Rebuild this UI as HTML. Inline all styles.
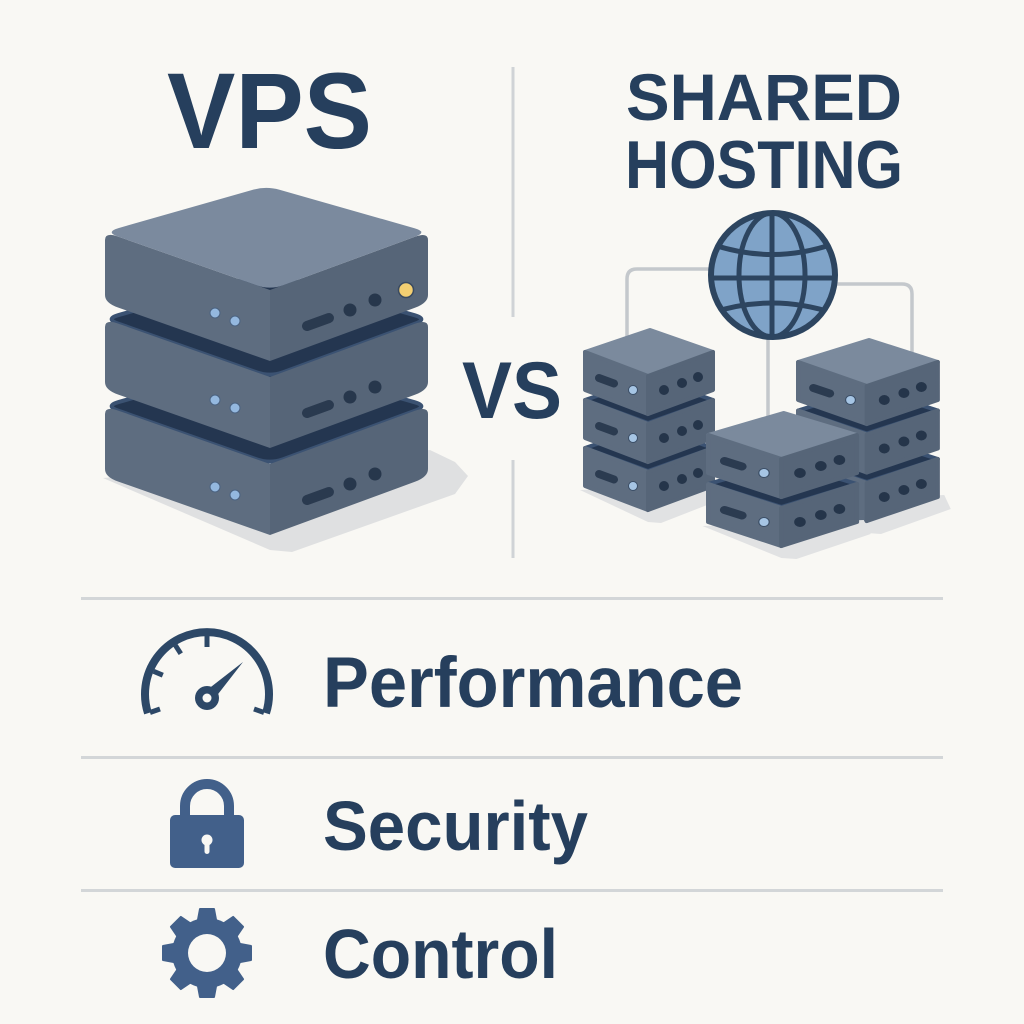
<!DOCTYPE html>
<html>
<head>
<meta charset="utf-8">
<style>
  html, body { margin:0; padding:0; background:#f9f8f4; }
  svg { display:block; }
  text { font-family: "Liberation Sans", "DejaVu Sans", sans-serif; font-weight:bold; fill:#263f5d; }
</style>
</head>
<body>
<svg width="1024" height="1024" viewBox="0 0 1024 1024" xmlns="http://www.w3.org/2000/svg">
  <defs>
    <!-- small server, top tier (light top) -->
    <g id="sTop">
      <path d="M2,0 L67,-22 L130,0 L65,23 Z" fill="#7b8a9d" stroke="#7b8a9d" stroke-width="4" stroke-linejoin="round"/>
      <path d="M2,0 L65,24 L65,62 L2,38 Z" fill="#5e6d80" stroke="#5e6d80" stroke-width="4" stroke-linejoin="round"/>
      <path d="M65,24 L130,0 L130,38 L65,62 Z" fill="#566578" stroke="#566578" stroke-width="4" stroke-linejoin="round"/>
      <line x1="16" y1="26" x2="31" y2="31.5" stroke="#2b3b50" stroke-width="8" stroke-linecap="round"/>
      <circle cx="50" cy="38" r="4.5" fill="#a6c5e4" stroke="#3b4e66" stroke-width="1"/>
      <circle cx="81" cy="38" r="5" fill="#25354a"/>
      <circle cx="99" cy="31" r="5" fill="#25354a"/>
      <circle cx="115" cy="25" r="5" fill="#25354a"/>
    </g>
    <!-- small server, lower tier (dark top rim) -->
    <g id="sLow">
      <path d="M2,0 L67,-22 L130,0 L65,23 Z" fill="#243650" stroke="#3b5272" stroke-width="4" stroke-linejoin="round"/>
      <path d="M2,0 L65,24 L65,62 L2,38 Z" fill="#5e6d80" stroke="#5e6d80" stroke-width="4" stroke-linejoin="round"/>
      <path d="M65,24 L130,0 L130,38 L65,62 Z" fill="#566578" stroke="#566578" stroke-width="4" stroke-linejoin="round"/>
      <line x1="16" y1="26" x2="31" y2="31.5" stroke="#2b3b50" stroke-width="8" stroke-linecap="round"/>
      <circle cx="50" cy="38" r="4.5" fill="#a6c5e4" stroke="#3b4e66" stroke-width="1"/>
      <circle cx="81" cy="38" r="5" fill="#25354a"/>
      <circle cx="99" cy="31" r="5" fill="#25354a"/>
      <circle cx="115" cy="25" r="5" fill="#25354a"/>
    </g>
    <path id="sShadow" d="M-3,42 L65,74 L78,75 L142,50 L136,36 Z" fill="#e1e2e3"/>

    <!-- VPS tier pieces -->
    <path id="vTop" d="M118.5,228.1 L252.5,189.9 Q266,186 279.5,189.8 L414.5,228.2 Q428,232 414.9,236.8 L283.1,285.2 Q270,290 256.8,285.4 L118.2,236.6 Q105,232 118.5,228.1 Z"/>
    <path id="vLeft" d="M105,240 Q105,232 118.2,236.6 L270,290 L270,361 L118,307.5 Q105,303 105,295 Z"/>
    <path id="vRight" d="M270,290 L414.9,236.8 Q428,232 428,240 L428,295 Q428,303 414.9,307.8 L270,361 Z"/>
    <g id="vFeat">
      <circle cx="215" cy="313" r="5" fill="#94b8df" stroke="#4b6280" stroke-width="1"/>
      <circle cx="235" cy="321" r="5" fill="#94b8df" stroke="#4b6280" stroke-width="1"/>
      <line x1="307" y1="326" x2="329" y2="318" stroke="#2a3a4f" stroke-width="10" stroke-linecap="round"/>
      <circle cx="350" cy="310" r="6.5" fill="#27374c"/>
      <circle cx="375" cy="300" r="6.5" fill="#27374c"/>
    </g>
    <clipPath id="globeClip"><circle cx="773" cy="275" r="62"/></clipPath>
  </defs>

  <rect width="1024" height="1024" fill="#f9f8f4"/>

  <!-- Titles -->
  <text x="167" y="148" font-size="108" textLength="205" lengthAdjust="spacingAndGlyphs">VPS</text>
  <text x="626" y="120" font-size="66" textLength="276" lengthAdjust="spacingAndGlyphs">SHARED</text>
  <text x="625" y="188" font-size="68" textLength="278" lengthAdjust="spacingAndGlyphs">HOSTING</text>
  <text x="462" y="418" font-size="81" textLength="100" lengthAdjust="spacingAndGlyphs">VS</text>

  <!-- vertical divider -->
  <rect x="511.5" y="67" width="3" height="250" fill="#d0d3d6"/>
  <rect x="511.5" y="460" width="3" height="98" fill="#d0d3d6"/>

  <!-- horizontal dividers -->
  <rect x="81" y="597" width="862" height="3" fill="#d3d6d8"/>
  <rect x="81" y="756" width="862" height="3" fill="#d3d6d8"/>
  <rect x="81" y="889" width="862" height="3" fill="#d3d6d8"/>

  <!-- VPS shadow -->
  <path d="M103,478 L270,550 L292,552 L455,494 L468,476 L455,462 L430,450 Z" fill="#dfe0e1"/>

  <!-- VPS tier 2 (bottom) -->
  <g transform="translate(0,174)">
    <use href="#vTop" fill="#243650" stroke="#3b5272" stroke-width="4"/>
    <use href="#vLeft" fill="#5e6d80"/>
    <use href="#vRight" fill="#566578"/>
    <use href="#vFeat"/>
  </g>
  <!-- VPS tier 1 -->
  <g transform="translate(0,87)">
    <use href="#vTop" fill="#243650" stroke="#3b5272" stroke-width="4"/>
    <use href="#vLeft" fill="#5e6d80"/>
    <use href="#vRight" fill="#566578"/>
    <use href="#vFeat"/>
  </g>
  <!-- VPS tier 0 (top) -->
  <g>
    <use href="#vLeft" fill="#5e6d80"/>
    <use href="#vRight" fill="#566578"/>
    <use href="#vTop" fill="#7b8a9e"/>
    <use href="#vFeat"/>
    <circle cx="406" cy="290" r="7.5" fill="#f3cf72" stroke="#3a4a60" stroke-width="1.5"/>
  </g>

  <!-- connectors -->
  <path d="M712,269 H637 Q627,269 627,279 V345" fill="none" stroke="#c4c8cc" stroke-width="3.5"/>
  <path d="M834,284 H902 Q912,284 912,294 V352" fill="none" stroke="#c4c8cc" stroke-width="3.5"/>
  <path d="M768,330 V425" fill="none" stroke="#c4c8cc" stroke-width="3.5"/>

  <!-- globe -->
  <circle cx="773" cy="275" r="62" fill="#7fa3c8"/>
  <g clip-path="url(#globeClip)" fill="none" stroke="#2d4560" stroke-width="5">
    <line x1="772" y1="205" x2="772" y2="345"/>
    <line x1="705" y1="278" x2="841" y2="278"/>
    <ellipse cx="772" cy="275" rx="33" ry="62"/>
    <path d="M708,243 Q772,266 836,243"/>
    <path d="M708,314 Q772,292 836,314"/>
  </g>
  <circle cx="773" cy="275" r="62" fill="none" stroke="#2d4560" stroke-width="6"/>

  <!-- Left stack -->
  <g transform="translate(583,352)">
    <use href="#sShadow" transform="translate(0,96)"/>
    <use href="#sLow" transform="translate(0,96)"/>
    <use href="#sLow" transform="translate(0,48)"/>
    <use href="#sTop"/>
  </g>

  <!-- Right stack -->
  <g transform="translate(796,362) scale(1.09,1)">
    <use href="#sShadow" transform="translate(0,97)"/>
    <use href="#sLow" transform="translate(0,97)"/>
    <use href="#sLow" transform="translate(0,48.5)"/>
    <use href="#sTop"/>
  </g>

  <!-- Front stack -->
  <g transform="translate(706,435) scale(1.16,1)">
    <use href="#sShadow" transform="translate(0,49)"/>
    <use href="#sLow" transform="translate(0,49)"/>
    <use href="#sTop"/>
  </g>

  <!-- Speedometer icon -->
  <g>
    <path d="M148,713.2 A62,62 0 1 1 266,713.2" fill="none" stroke="#2d4867" stroke-width="8"/>
    <g stroke="#2d4867" stroke-width="5" stroke-linecap="butt">
      <line x1="207" y1="636" x2="207" y2="647"/>
      <line x1="175.4" y1="645.3" x2="180.8" y2="653.7"/>
      <line x1="153.6" y1="671.3" x2="162.8" y2="675.2"/>
      <line x1="150" y1="712.5" x2="160" y2="709"/>
      <line x1="264" y1="712.5" x2="254" y2="709"/>
    </g>
    <polygon points="211.5,702.5 202.5,693.5 243,662" fill="#2d4867"/>
    <circle cx="207" cy="698" r="12" fill="#2d4867"/>
    <circle cx="207" cy="698" r="4.5" fill="#f9f8f4"/>
  </g>

  <!-- Lock icon -->
  <g>
    <path d="M185,818 V806 A22,22 0 0 1 229,806 V818" fill="none" stroke="#42608a" stroke-width="10"/>
    <rect x="170" y="815" width="74" height="53" rx="5" fill="#42608a"/>
    <circle cx="207" cy="840" r="5.5" fill="#f9f8f4"/>
    <rect x="204.5" y="840" width="5" height="14" rx="2.5" fill="#f9f8f4"/>
  </g>

  <!-- Gear icon -->
  <g transform="translate(207,953)">
    <g fill="#42608a" stroke="#42608a" stroke-width="2" stroke-linejoin="round">
      <polygon points="-7,-44 7,-44 10,-28 -10,-28"/>
      <polygon points="-7,-44 7,-44 10,-28 -10,-28" transform="rotate(45)"/>
      <polygon points="-7,-44 7,-44 10,-28 -10,-28" transform="rotate(90)"/>
      <polygon points="-7,-44 7,-44 10,-28 -10,-28" transform="rotate(135)"/>
      <polygon points="-7,-44 7,-44 10,-28 -10,-28" transform="rotate(180)"/>
      <polygon points="-7,-44 7,-44 10,-28 -10,-28" transform="rotate(225)"/>
      <polygon points="-7,-44 7,-44 10,-28 -10,-28" transform="rotate(270)"/>
      <polygon points="-7,-44 7,-44 10,-28 -10,-28" transform="rotate(315)"/>
    </g>
    <circle cx="0" cy="0" r="35" fill="#42608a"/>
    <circle cx="0" cy="0" r="19" fill="#f9f8f4"/>
  </g>

  <!-- Feature labels -->
  <text x="323" y="707" font-size="71" textLength="420" lengthAdjust="spacingAndGlyphs">Performance</text>
  <text x="323" y="850" font-size="70" textLength="265" lengthAdjust="spacingAndGlyphs">Security</text>
  <text x="323" y="978" font-size="70" textLength="235" lengthAdjust="spacingAndGlyphs">Control</text>
</svg>
</body>
</html>
